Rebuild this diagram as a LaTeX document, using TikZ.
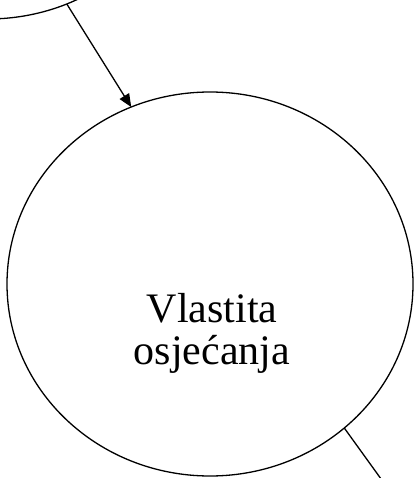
\documentclass[tikz,border=0pt]{standalone}
\usepackage{fontspec}
\setmainfont{Liberation Serif}
\usetikzlibrary{arrows.meta,shapes.geometric}
\begin{document}
\begin{tikzpicture}[x=1pt,y=-1pt,
  bub/.style={draw, ellipse, line width=1.3pt, inner sep=0pt, outer sep=0pt, minimum width=406pt, minimum height=384pt},
  lbl/.style={font=\fontsize{42}{42}\selectfont, inner sep=0pt, anchor=base},
  conn/.style={line width=1.3pt},
  arr/.style={conn, -{Triangle[length=13pt,width=11pt]}}]
\useasboundingbox (0,0) rectangle (415,478);
\clip (0,0) rectangle (415,478);
\node[bub] (src) at (-12,-173) {};
\node[bub] (main) at (210,284) {};
\node[lbl] (t1) at (212,322) {Vlastita};
\node[lbl] (t2) at (212,364) {osjećanja};
\coordinate (exit) at (389,490);
\draw[arr] (src.-66.3) -- (main.114.3);
\draw[conn] (main.-47.2) -- (exit);
\end{tikzpicture}
\end{document}
